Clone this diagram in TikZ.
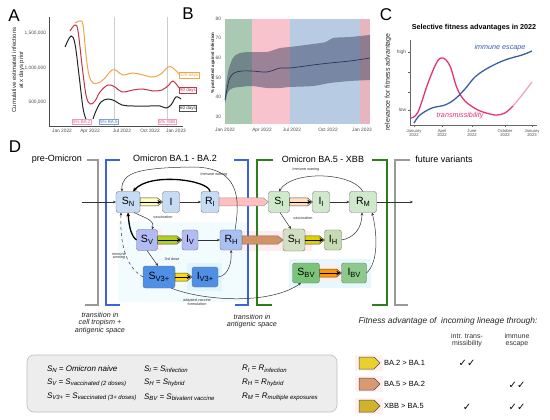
\documentclass[tikz,border=0pt]{standalone}
\usepackage{fontspec}
\setmainfont{Liberation Sans}
\newfontfamily\dejavu{DejaVu Sans}
\usetikzlibrary{calc,arrows.meta}
\definecolor{aorange}{HTML}{F4A444}
\definecolor{ared}{HTML}{C23448}
\definecolor{bgreen}{HTML}{A9C9B2}
\definecolor{bpink}{HTML}{F8C3CC}
\definecolor{bblue}{HTML}{B7CBE3}
\definecolor{bpinkb}{HTML}{E6B5BD}
\definecolor{bband}{HTML}{2B3558}
\definecolor{cblue}{HTML}{3A5EA6}
\definecolor{cpink}{HTML}{E8336E}
\definecolor{brblue}{HTML}{3D62DC}
\definecolor{brgreen}{HTML}{2F7D1F}
\definecolor{nblue}{HTML}{C6DCF4}
\definecolor{nlav}{HTML}{B2BBF4}
\definecolor{nbluem}{HTML}{A9C0F2}
\definecolor{ndblue}{HTML}{4F8FE6}
\definecolor{ngreen}{HTML}{D0E8CC}
\definecolor{nhyb}{HTML}{D3DFC2}
\definecolor{nih}{HTML}{C5DCB2}
\definecolor{nbv}{HTML}{7CC37A}
\definecolor{nibv}{HTML}{8DC98A}
\definecolor{lblpink}{HTML}{E85A8A}
\definecolor{lblblue}{HTML}{4A7AC0}
\newcommand\fs[1]{\fontsize{#1}{#1}\selectfont}
\newcommand\lsub[1]{\raisebox{-0.35ex}{\fontsize{6}{6}\selectfont #1}}
\newcommand\nsub[1]{\raisebox{-0.4ex}{\fontsize{7.5}{7.5}\selectfont #1}}
\newcommand\flow[4]{%
  \fill[#3, draw=#4, line width=0.5pt] ($(#1.east)+(0,-4)$) -- ($(#2.west)+(-5,-4)$) -- (#2.west) -- ($(#2.west)+(-5,4)$) -- ($(#1.east)+(0,4)$) -- cycle;}
\newcommand\flowarr[4]{\flow{#1}{#2}{#3}{#4}%
  \draw[-{Stealth[length=4pt,width=4pt]}, line width=0.9pt] (#1.east) -- ($(#2.west)+(-1,0)$);}
\begin{document}
\begin{tikzpicture}[x=1pt,y=-1pt,
  every node/.style={inner sep=0pt, outer sep=0pt},
  letter/.style={font=\fs{17}},
  tick/.style={font=\fs{4.8}, text=black!70},
  daybox/.style={draw, fill=white, inner sep=0.8pt, font=\fs{4.5}},
  box/.style={draw=black!55, rounded corners=2.5pt, minimum height=21pt, font=\fs{10.5}},
  arr/.style={-{Stealth[length=3pt,width=2.6pt]}, line width=0.5pt, black!80},
  thickarr/.style={-{Stealth[length=4pt,width=3.6pt]}, line width=1.3pt, black},
  tiny/.style={font=\fs{3.8}, text=black!80, align=center},
  bracketline/.style={line width=1.4pt},
  leg/.style={anchor=west, font=\fs{8}\itshape},
  hdr/.style={font=\fs{7}, align=center, text=black!80},
  chk/.style={font=\dejavu\fs{10}}]
\useasboundingbox (0,0) rectangle (550,420);
\fill[white] (0,0) rectangle (550,420);

% ---------------- Panel A ----------------
\node[letter] (lA) at (14,16) {A};
\draw[black!20, line width=0.4pt] (114,17) -- (114,126) (167,17) -- (167,126);
\draw[black!70, line width=0.5pt] (49,17) -- (49,126) -- (183,126);
\foreach \y/\t in {33/{1,500,000},68/{1,000,000},102/{500,000}}
  \node[tick, anchor=east] at (46,\y) {\t};
\foreach \x/\t in {62/Jan 2022,90/Apr 2022,122/Jul 2022,150/Oct 2022,176/Jan 2023}
  \node[tick] at (\x,131) {\t};
\node[rotate=90, align=center, font=\fs{6}, text=black!85] (ylabA) at (18,70) {Cumulative estimated infections\\[1pt]at x days prior};
\draw[aorange, line width=1pt] plot[smooth, tension=0.6] coordinates {(75,23) (80,21) (83,25) (86,55) (89,75) (93,83) (98,83) (104,79) (112,70) (117,71) (123,75) (133,73) (143,75) (153,77) (161,74) (168,67) (173,68) (180,75)};
\draw[ared, line width=1pt] plot[smooth, tension=0.6] coordinates {(70,31) (75,25) (78,31) (82,65) (86,95) (90,104) (95,101) (100,92) (108,85) (115,87) (122,92) (133,90) (143,89) (153,91) (162,90) (169,85) (173,81) (180,89)};
\draw[black!85, line width=1pt] plot[smooth, tension=0.6] coordinates {(65,47) (71,36) (75,44) (79,75) (83,108) (86,119)};
\draw[black!85, line width=1pt] plot[smooth, tension=0.6] coordinates {(93,119) (96,111) (101,102) (108,99) (115,101) (122,105) (133,106) (150,106) (160,106) (166,108) (171,105) (176,97) (181,99)};
\node[daybox, draw=aorange, text=aorange] (d120) at (189,75.5) {120 days};
\node[daybox, draw=ared, text=ared] (d90) at (188,90.5) {90 days};
\node[daybox, draw=black!70, text=black!80] (d60) at (188,108.5) {60 days};
\node[daybox, draw=lblpink!60, text=lblpink] (p1) at (82,121.5) {5\% BA.2};
\node[daybox, draw=lblblue!70, text=lblblue] (p2) at (109,121.5) {5\% BA.5};
\node[daybox, draw=lblpink!60, text=lblpink] (p3) at (167,121.5) {5\% XBB};

% ---------------- Panel B ----------------
\node[letter] (lB) at (188,14) {B};
\fill[bgreen] (225,19) rectangle (252,124);
\fill[bpink] (252,19) rectangle (290,124);
\fill[bblue] (290,19) rectangle (360,124);
\fill[bpinkb] (360,19) rectangle (370,124);
\foreach \y/\t in {19/80,38/70,58/60,78/50,97/40,117/30}
  \node[tick, anchor=east] at (221,\y) {\t};
\foreach \x/\t in {225/Jan 2022,262/Apr 2022,292/Jul 2022,328/Oct 2022,362/Jan 2023}
  \node[tick] at (\x,130) {\t};
\node[rotate=90, font=\bfseries\fs{4.4}, text=black!85] (ylabB) at (213,63) {\% protected against infection};
\fill[bband, opacity=0.45] plot[smooth, tension=0.5] coordinates {(225,95) (228,72) (233,58) (240,53) (252,52) (267,52) (280,48) (290,47) (313,44) (326,42) (333,38) (350,37) (370,35)}
  -- plot[smooth, tension=0.5] coordinates {(370,80) (350,81) (330,83) (313,86) (290,87) (280,88) (267,88) (252,86) (240,87) (233,88) (228,92) (225,104)} -- cycle;
\draw[bband, line width=0.7pt] plot[smooth, tension=0.5] coordinates {(225,100) (229,80) (234,73) (242,71) (252,71) (267,72) (280,68) (290,68) (313,65) (330,63) (350,61) (370,58)};

% ---------------- Panel C ----------------
\node[letter] (lC) at (386,15) {C};
\node[font=\bfseries\fs{7.2}] (titleC) at (474,28) {Selective fitness advantages in 2022};
\draw[black!60, line width=0.5pt] (410,40) -- (410,125) -- (537,125);
\foreach \y in {52,72,92,110} \draw[black!60, line width=0.4pt] (408,\y) -- (410,\y);
\node[tick, anchor=east] at (406,52) {high};
\node[tick, anchor=east] at (406,110) {low};
\foreach \x/\m/\yr in {414/January/2022,442/April/2022,472/June/2022,505/October/2022,532/January/2023}{
  \draw[black!60, line width=0.4pt] (\x,125) -- (\x,127);
  \node[tick, font=\fs{4.2}, align=center] at (\x,133) {\m\\\yr};}
\node[rotate=90, font=\fs{7}, text=black!85] (ylabC) at (388,82) {relevance for fitness advantage};
\draw[cpink, line width=1.3pt] plot[smooth, tension=0.6] coordinates {(411,118) (418,112) (428,83) (437,62) (443,58) (450,66) (457,88) (465,101) (478,110) (490,114) (497,115) (505,113) (513,106)};
\draw[cpink!45, line width=1.3pt] plot[smooth, tension=0.6] coordinates {(513,106) (522,95) (532,82)};
\draw[cblue, line width=1.3pt] plot[smooth, tension=0.6] coordinates {(414,123) (420,115) (432,108) (445,105) (455,99) (465,89) (475,77) (488,68) (505,60) (522,55) (532,51)};
\node[font=\itshape\fs{7.2}, text=cblue] (ie) at (500,48) {immune escape};
\node[font=\itshape\fs{7.2}, text=cpink] (tr) at (460,116) {transmissibility};

% ---------------- Panel D ----------------
\node[letter] (lD) at (15,147) {D};
% soft backgrounds
\fill[cyan!5] (118,222) rectangle (247,302);
\fill[pink!30] (236,231) rectangle (312,251);
\fill[pink!25] (154,229) rectangle (162,250);
\fill[cyan!12] (187,263) rectangle (222,291);
\fill[cyan!10] (289,259) rectangle (371,288);
\fill[pink!30] (318,265) rectangle (342,281);

% titles
\node[font=\fs{9}] (tpre) at (57,159) {pre-Omicron};
\node[font=\fs{9}] (tba1) at (175,158) {Omicron BA.1 - BA.2};
\node[font=\fs{9}] (tba5) at (323,159) {Omicron BA.5 - XBB};
\node[font=\fs{9}] (tfut) at (444,159) {future variants};

% brackets
\draw[bracketline, black!40] (87,160) -- (98,160) -- (98,305) -- (85,305);
\draw[bracketline, brblue] (120,160) -- (106,160) -- (106,305) -- (120,305);
\draw[bracketline, brblue] (234,160) -- (248,160) -- (248,305) -- (235,305);
\draw[bracketline, brgreen] (273,160) -- (257,160) -- (257,305) -- (272,305);
\draw[bracketline, brgreen] (372,160) -- (387,160) -- (387,305) -- (372,305);
\draw[bracketline, black!40] (410,160) -- (395,160) -- (395,305) -- (408,305);

% nodes
\node[box, fill=nblue, minimum width=24pt] (SN) at (128,202) {S\nsub{N}};
\node[box, fill=nblue, minimum width=17pt] (I) at (171,202) {I};
\node[box, fill=nblue, minimum width=18pt] (RI) at (210,202) {R\nsub{I}};
\node[box, fill=nlav, minimum width=21pt] (SV) at (147,240) {S\nsub{V}};
\node[box, fill=nlav, minimum width=16pt, minimum height=20pt] (IV) at (190,240) {I\nsub{V}};
\node[box, fill=nbluem, minimum width=22pt, minimum height=20pt] (RH) at (231,240) {R\nsub{H}};
\node[box, fill=ndblue, minimum width=32pt, minimum height=22pt] (SV3) at (159,277) {S\nsub{V3+}};
\node[box, fill=ndblue, minimum width=26pt, minimum height=20pt] (IV3) at (205,277) {I\nsub{V3+}};
\node[box, fill=ngreen, minimum width=21pt] (SI) at (279,202) {S\nsub{I}};
\node[box, fill=ngreen, minimum width=17pt] (II) at (321,202) {I\nsub{I}};
\node[box, fill=ngreen, minimum width=27pt] (RM) at (363,202) {R\nsub{M}};
\node[box, fill=nhyb, minimum width=22pt, minimum height=22pt] (SH) at (294,240) {S\nsub{H}};
\node[box, fill=nih, minimum width=17pt, minimum height=20pt] (IH) at (333,240) {I\nsub{H}};
\node[box, fill=nbv, minimum width=27pt, minimum height=20pt] (SBV) at (306,273) {S\nsub{BV}};
\node[box, fill=nibv, minimum width=25pt, minimum height=20pt] (IBV) at (354,273) {I\nsub{BV}};

% flows
\flowarr{SN}{I}{yellow!25!white}{black!75}
\flow{RI}{SI}{red!25!white}{black!40}
\flowarr{SI}{II}{orange!25!white}{black!70}
\flowarr{SV}{IV}{yellow!75!green!90!black}{black!70}
\flow{RH}{SH}{brown!70!pink}{black!55}
\flowarr{SV3}{IV3}{yellow!80!orange}{black!70}
\flowarr{SH}{IH}{yellow!70!olive}{black!70}
\flowarr{SBV}{IBV}{orange!80!yellow}{black!70}

% connectors
\coordinate (entry) at (82,202);
\coordinate (exit) at (413,202);
\draw[arr] (entry) -- (SN);
\draw[arr] (I) -- (RI);
\draw[arr] (II) -- (RM);
\draw[arr] (RM) -- (exit);
\draw[arr] (IV) -- (RH);
\draw[thickarr] (RI.north) .. controls (209,180) and (150,172) .. ($(SN.north)+(5,0)$);
\node[tiny] (iw1) at (214,174.5) {immune waning};
\draw[arr] ($(RH.north)+(4,0)$) .. controls (240,200) and (241,166) .. (190,167) .. controls (140,168) and (121,172) .. ($(SN.north)+(-6,0)$);
\draw[arr] ($(SN.south)+(6,0)$) .. controls (145,218) and (155,220) .. ($(SV.north)+(5,0)$);
\node[tiny] (vac1) at (163,217) {vaccination};
\draw[thickarr] (SV.west) .. controls (131,236) and (129,226) .. (SN.south);
\draw[arr, dashed] (SV3.west) .. controls (124,266) and (120,240) .. ($(SN.south)+(-7,0)$);
\node[tiny] (iw2) at (119,256) {immune\\waning};
\draw[arr] (SV.south) -- ($(SV3.north)+(-1,0)$);
\node[tiny] (dose) at (172,259) {3rd dose};
\draw[arr] (IV3.east) .. controls (228,276) and (232,263) .. (RH.south);
\draw[arr] ($(SI.south)+(1,0)$) -- ($(SH.north)+(-3,0)$);
\node[tiny] (vac2) at (303,218) {vaccination};
\draw[arr] (IH.east) .. controls (354,238) and (362,228) .. ($(RM.south)+(-1,0)$);
\draw[arr] (IBV.east) .. controls (379,262) and (377,232) .. ($(RM.south)+(9,0)$);
\draw[arr] (RM.north) .. controls (352,172) and (292,170) .. (SI.north);
\node[tiny] (iw3) at (306,170) {immune waning};
\draw[arr] ($(SV3.south)+(12,0)$) .. controls (200,300) and (268,306) .. ($(SBV.south)+(-5,0)$);
\node[tiny] (avf) at (197,302) {adapted vaccine\\formulation};

% transition texts
\node[font=\itshape\fs{7.2}, align=center, text=black!85] (tr1) at (100,323) {transition in\\cell tropism +\\antigenic space};
\node[font=\itshape\fs{7.2}, align=center, text=black!85] (tr2) at (252,321) {transition in\\antigenic space};

% legend box
\draw[black!25, fill=black!7, rounded corners=7pt, line width=0.6pt] (27,355) rectangle (337,412);
\node[leg] (l1) at (47,369) {S\lsub{N} = Omicron naive};
\node[leg] (l2) at (47,383) {S\lsub{V} = S\lsub{vaccinated (2 doses)}};
\node[leg] (l3) at (47,397) {S\lsub{V3+} = S\lsub{vaccinated (3+ doses)}};
\node[leg] (l4) at (144,369) {S\lsub{I} = S\lsub{infection}};
\node[leg] (l5) at (144,383) {S\lsub{H} = S\lsub{hybrid}};
\node[leg] (l6) at (144,397) {S\lsub{BV} = S\lsub{bivalent vaccine}};
\node[leg] (l7) at (242,369) {R\lsub{I} = R\lsub{infection}};
\node[leg] (l8) at (242,383) {R\lsub{H} = R\lsub{hybrid}};
\node[leg] (l9) at (242,397) {R\lsub{M} = R\lsub{multiple exposures}};

% fitness legend
\node[font=\itshape\fs{8.4}, text=black!85] (fit) at (448,321) {Fitness advantage of \ incoming lineage through:};
\node[hdr] (h1) at (467,340) {intr. trans-\\missibility};
\node[hdr] (h2) at (517,340) {immune\\escape};
\foreach \y/\c/\t in {363/yellow!80!orange!90!black!90/BA.2 > BA.1, 384/brown!60!pink/BA.5 > BA.2, 406/yellow!70!orange!80!black/XBB > BA.5}{
  \fill[pink!22] (355,\y-8) rectangle (383,\y+8);
  \fill[\c, draw=black!70, line width=0.5pt] (359,\y-6) -- (374,\y-6) -- (380,\y) -- (374,\y+6) -- (359,\y+6) -- cycle;
  \node[anchor=west, font=\fs{7.5}] at (384,\y) {\t};}
\node[chk] (c1) at (467,363) {✓✓};
\node[chk] (c2) at (517,385) {✓✓};
\node[chk] (c3) at (467,407) {✓};
\node[chk] (c4) at (517,407) {✓✓};
\end{tikzpicture}
\end{document}
